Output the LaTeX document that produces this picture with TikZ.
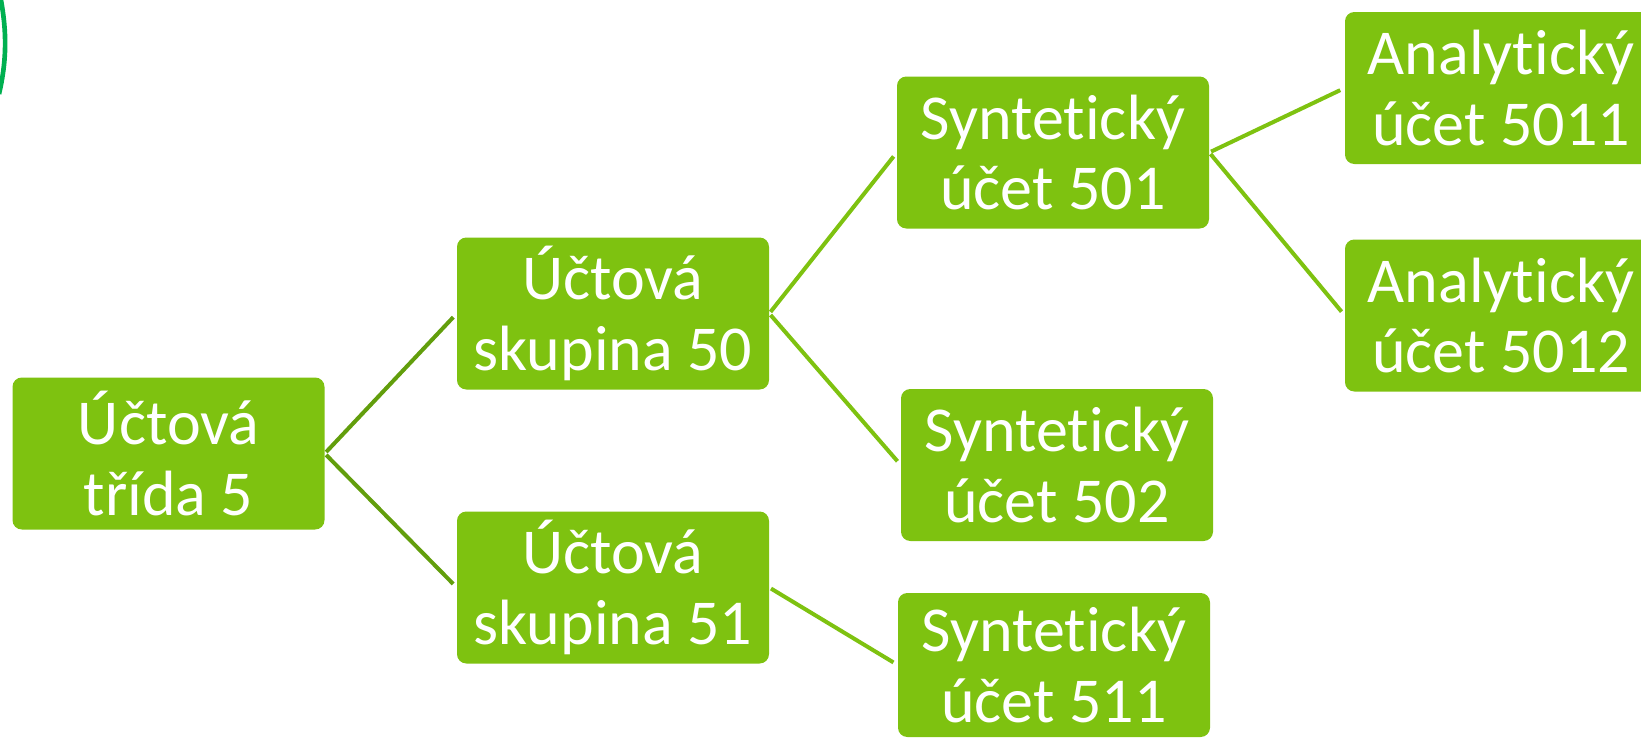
\documentclass[tikz,border=0pt]{standalone}
\usepackage{fontspec}
\setmainfont{Carlito}[Ligatures=NoCommon]
\definecolor{boxgreen}{RGB}{126,194,16}
\definecolor{darkline}{RGB}{98,158,12}
\definecolor{arcgreen}{RGB}{0,176,80}
\begin{document}
\begin{tikzpicture}[x=0.75pt,y=-0.75pt,
  box/.style={fill=boxgreen, rounded corners=7pt, minimum width=234pt, minimum height=114pt,
    inner sep=0pt, text=white, align=center, font=\fontsize{48}{53}\selectfont},
  link/.style={draw=boxgreen, line width=3pt, shorten <=1.5pt, shorten >=3.75pt},
  darklink/.style={link, draw=darkline}]
\useasboundingbox (0,0) rectangle (1641,739);
\clip (0,0) rectangle (1641,739);
\draw[arcgreen, line width=3.5pt] (0,-5) .. controls (7,30) and (7,60) .. (-1,94);
\node[box] (t5) at (168.5,453.5) {Účtová\\třída 5};
\node[box] (s50) at (613,313.5) {Účtová\\skupina 50};
\node[box] (s51) at (613,587.5) {Účtová\\skupina 51};
\node[box] (u501) at (1053,152.5) {Syntetický\\účet 501};
\node[box] (u502) at (1057,465) {Syntetický\\účet 502};
\node[box, minimum height=108pt] (u511) at (1054,665) {Syntetický\\účet 511};
\node[box] (a5011) at (1501,88) {Analytický\\účet 5011};
\node[box] (a5012) at (1501,315.5) {Analytický\\účet 5012};
\draw[darklink] (t5.east) -- (s50.west);
\draw[darklink] (t5.east) -- (s51.west);
\draw[link] (s50.east) -- (u501.west);
\draw[link] (s50.east) -- (u502.west);
\draw[link] (s51.east) -- (u511.west);
\draw[link] (u501.east) -- (a5011.west);
\draw[link] (u501.east) -- (a5012.west);
\end{tikzpicture}
\end{document}
